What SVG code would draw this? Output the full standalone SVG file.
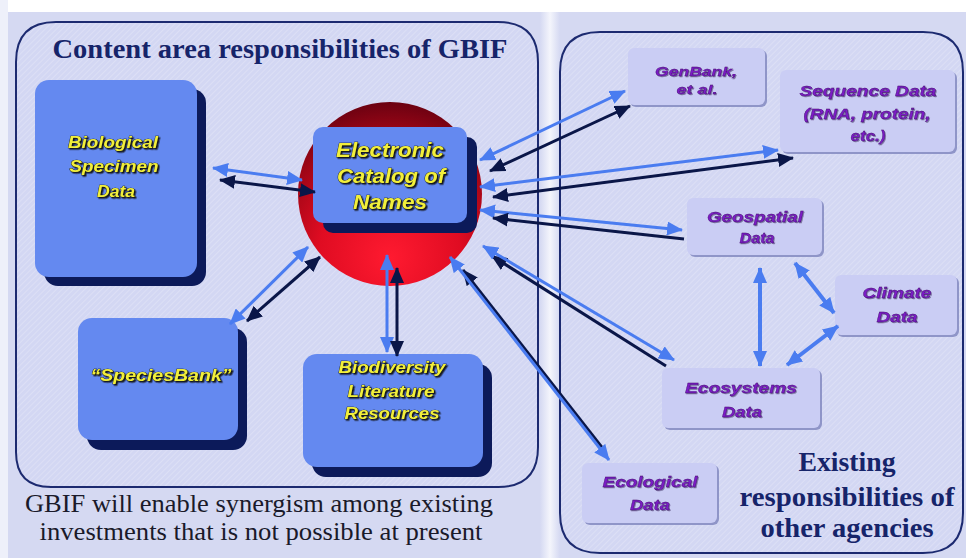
<svg xmlns="http://www.w3.org/2000/svg" width="966" height="558" viewBox="0 0 966 558">
<defs>
<style>
.bg{fill:#d5d9f2}
.panel{fill:url(#hatch);stroke:#1c2a70;stroke-width:2}
.bbox{fill:#6489f0}
.bshadow{fill:#0c1a5a}
.rbox{fill:#cacdf4}
.rshadow{fill:#8f95c8}
.yt{font-family:"Liberation Sans",Arial,sans-serif;font-style:italic;font-weight:bold;font-size:16px;fill:#f2ef3a;stroke:#15150a;stroke-width:0.7;paint-order:stroke;text-anchor:middle;filter:url(#ts)}
.ecn{font-size:20px}
.pt{font-family:"Liberation Sans",Arial,sans-serif;font-style:italic;font-weight:bold;font-size:15px;fill:#7a1cc4;stroke:#3a0a60;stroke-width:0.3;text-anchor:middle;filter:url(#ts2)}
.sm{font-size:13px}
.head{font-family:"Liberation Serif","Times New Roman",serif;font-weight:bold;font-size:27px;fill:#16246a;text-anchor:middle}
.foot{font-family:"Liberation Serif","Times New Roman",serif;font-size:25px;fill:#1a1a2a;text-anchor:middle}
.lb{stroke:#4a7cf0;stroke-width:3;fill:none}
.dk{stroke:#0a1648;stroke-width:3;fill:none}
.lbw{stroke:#4a7cf0;stroke-width:4;fill:none}
</style>
<pattern id="hatch" width="4" height="4" patternUnits="userSpaceOnUse" patternTransform="rotate(45)">
<rect width="4" height="4" fill="#d3d7f3"/>
<line x1="0" y1="0" x2="0" y2="4" stroke="#dfe2f6" stroke-width="1.5"/>
</pattern>
<linearGradient id="gap" x1="0" y1="0" x2="1" y2="0">
<stop offset="0" stop-color="#d5d9f2"/>
<stop offset="0.5" stop-color="#f4f5fc"/>
<stop offset="1" stop-color="#d5d9f2"/>
</linearGradient>
<radialGradient id="red" cx="0.5" cy="0.8" r="0.85" fx="0.5" fy="0.85">
<stop offset="0" stop-color="#ff1a30"/>
<stop offset="0.45" stop-color="#e00c22"/>
<stop offset="0.75" stop-color="#a00616"/>
<stop offset="1" stop-color="#5c0010"/>
</radialGradient>
<filter id="ts" x="-10%" y="-30%" width="130%" height="160%">
<feDropShadow dx="1.5" dy="1.5" stdDeviation="0.4" flood-color="#101010" flood-opacity="0.9"/>
</filter>
<filter id="ts2" x="-10%" y="-30%" width="130%" height="160%">
<feDropShadow dx="1" dy="1" stdDeviation="0.4" flood-color="#2a1050" flood-opacity="0.5"/>
</filter>
<marker id="hl" viewBox="0 0 16 14" markerUnits="userSpaceOnUse" markerWidth="16" markerHeight="14" refX="15" refY="7" orient="auto-start-reverse">
<path d="M0,0 L16,7 L0,14 z" fill="#4a7cf0"/>
</marker>
<marker id="hd" viewBox="0 0 16 14" markerUnits="userSpaceOnUse" markerWidth="16" markerHeight="14" refX="15" refY="7" orient="auto-start-reverse">
<path d="M0,0 L16,7 L0,14 z" fill="#0a1648"/>
</marker>
</defs>

<g id="background">
<rect class="bg" x="0" y="0" width="966" height="558"/>
<rect x="0" y="0" width="966" height="12" fill="#ffffff"/>
<rect x="0" y="0" width="8" height="558" fill="#eef0fa"/>
<rect x="540" y="12" width="20" height="546" fill="url(#gap)"/>
</g>

<g id="panel-gbif">
<path class="panel" d="M56,22 L498,22 Q538,22 538,62 L538,447 Q538,487 498,487 L51,487 Q16,487 16,452 L16,62 Q16,22 56,22 Z"/>
<text class="head" x="280" y="58" textLength="455" lengthAdjust="spacingAndGlyphs">Content area responsibilities of GBIF</text>
</g>

<g id="panel-agencies">
<path class="panel" d="M600,32 L923,32 Q963,32 963,72 L963,513 Q963,553 923,553 L600,553 Q560,553 560,513 L560,72 Q560,32 600,32 Z"/>
<text class="head" x="847" y="471" textLength="97" lengthAdjust="spacingAndGlyphs">Existing</text>
<text class="head" x="847" y="506" textLength="215" lengthAdjust="spacingAndGlyphs">responsibilities of</text>
<text class="head" x="847" y="537" textLength="173" lengthAdjust="spacingAndGlyphs">other agencies</text>
</g>

<g id="node-biological">
<rect class="bshadow" x="44" y="89" width="162" height="197" rx="14"/>
<rect class="bbox" x="35" y="80" width="162" height="197" rx="14"/>
<text class="yt" x="113" y="148" textLength="90" lengthAdjust="spacingAndGlyphs">Biological</text>
<text class="yt" x="114" y="172" textLength="89" lengthAdjust="spacingAndGlyphs">Specimen</text>
<text class="yt" x="116" y="197" textLength="38" lengthAdjust="spacingAndGlyphs">Data</text>
</g>

<g id="node-ecn">
<circle cx="390" cy="194" r="92" fill="url(#red)"/>
<rect class="bshadow" x="323" y="137" width="154" height="96" rx="10"/>
<rect class="bbox" x="313" y="127" width="154" height="96" rx="10"/>
<text class="yt ecn" x="390" y="157" textLength="108" lengthAdjust="spacingAndGlyphs">Electronic</text>
<text class="yt ecn" x="391" y="183" textLength="108" lengthAdjust="spacingAndGlyphs">Catalog of</text>
<text class="yt ecn" x="390" y="209" textLength="74" lengthAdjust="spacingAndGlyphs">Names</text>
</g>

<g id="node-speciesbank">
<rect class="bshadow" x="87" y="328" width="160" height="122" rx="14"/>
<rect class="bbox" x="78" y="318" width="160" height="122" rx="14"/>
<text class="yt" x="161" y="381" textLength="141" lengthAdjust="spacingAndGlyphs">“SpeciesBank”</text>
</g>

<g id="node-biodiversity">
<rect class="bshadow" x="312" y="364" width="180" height="113" rx="14"/>
<rect class="bbox" x="303" y="354" width="180" height="113" rx="14"/>
<text class="yt" x="392" y="373" textLength="107" lengthAdjust="spacingAndGlyphs">Biodiversity</text>
<text class="yt" x="391" y="397" textLength="87" lengthAdjust="spacingAndGlyphs">Literature</text>
<text class="yt" x="392" y="419" textLength="95" lengthAdjust="spacingAndGlyphs">Resources</text>
</g>

<g id="node-genbank">
<rect class="rshadow" x="630" y="50" width="137" height="57" rx="6"/>
<rect class="rbox" x="628" y="48" width="137" height="57" rx="6"/>
<text class="pt sm" x="696" y="76" textLength="82" lengthAdjust="spacingAndGlyphs">GenBank,</text>
<text class="pt sm" x="697" y="94" textLength="41" lengthAdjust="spacingAndGlyphs">et al.</text>
</g>

<g id="node-sequence">
<rect class="rshadow" x="782" y="72" width="175" height="82" rx="6"/>
<rect class="rbox" x="780" y="70" width="175" height="82" rx="6"/>
<text class="pt" x="868" y="96" textLength="137" lengthAdjust="spacingAndGlyphs">Sequence Data</text>
<text class="pt" x="867" y="119" textLength="127" lengthAdjust="spacingAndGlyphs">(RNA, protein,</text>
<text class="pt" x="868" y="141" textLength="35" lengthAdjust="spacingAndGlyphs">etc.)</text>
</g>

<g id="node-geospatial">
<rect class="rshadow" x="689" y="200" width="135" height="57" rx="6"/>
<rect class="rbox" x="687" y="198" width="135" height="57" rx="6"/>
<text class="pt" x="755" y="222" textLength="96" lengthAdjust="spacingAndGlyphs">Geospatial</text>
<text class="pt" x="757" y="243" textLength="35" lengthAdjust="spacingAndGlyphs">Data</text>
</g>

<g id="node-climate">
<rect class="rshadow" x="837" y="277" width="122" height="60" rx="6"/>
<rect class="rbox" x="835" y="275" width="122" height="60" rx="6"/>
<text class="pt" x="897" y="298" textLength="69" lengthAdjust="spacingAndGlyphs">Climate</text>
<text class="pt" x="897" y="322" textLength="41" lengthAdjust="spacingAndGlyphs">Data</text>
</g>

<g id="node-ecosystems">
<rect class="rshadow" x="664" y="370" width="158" height="60" rx="6"/>
<rect class="rbox" x="662" y="368" width="158" height="60" rx="6"/>
<text class="pt" x="741" y="393" textLength="112" lengthAdjust="spacingAndGlyphs">Ecosystems</text>
<text class="pt" x="742" y="417" textLength="40" lengthAdjust="spacingAndGlyphs">Data</text>
</g>

<g id="node-ecological">
<rect class="rshadow" x="584" y="465" width="135" height="60" rx="6"/>
<rect class="rbox" x="582" y="463" width="135" height="60" rx="6"/>
<text class="pt" x="650" y="487" textLength="95" lengthAdjust="spacingAndGlyphs">Ecological</text>
<text class="pt" x="650" y="510" textLength="40" lengthAdjust="spacingAndGlyphs">Data</text>
</g>

<g id="connectors">
<line class="lb" x1="213" y1="168" x2="302" y2="180" marker-start="url(#hl)" marker-end="url(#hl)"/>
<line class="dk" x1="220" y1="180" x2="315" y2="192" marker-start="url(#hd)" marker-end="url(#hd)"/>
<line class="lb" x1="308" y1="247" x2="230" y2="324" marker-start="url(#hl)" marker-end="url(#hl)"/>
<line class="dk" x1="320" y1="257" x2="247" y2="321" marker-start="url(#hd)" marker-end="url(#hd)"/>
<line class="lb" x1="387" y1="255" x2="387" y2="352" marker-start="url(#hl)" marker-end="url(#hl)"/>
<line class="dk" x1="397" y1="268" x2="397" y2="356" marker-start="url(#hd)" marker-end="url(#hd)"/>
<line class="lb" x1="480" y1="160" x2="625" y2="91" marker-start="url(#hl)" marker-end="url(#hl)"/>
<line class="dk" x1="490" y1="171" x2="630" y2="106" marker-start="url(#hd)" marker-end="url(#hd)"/>
<line class="lb" x1="480" y1="187" x2="778" y2="150" marker-start="url(#hl)" marker-end="url(#hl)"/>
<line class="dk" x1="493" y1="197" x2="793" y2="158" marker-start="url(#hd)" marker-end="url(#hd)"/>
<line class="lb" x1="480" y1="210" x2="682" y2="230" marker-start="url(#hl)" marker-end="url(#hl)"/>
<line class="dk" x1="493" y1="218" x2="684" y2="239" marker-start="url(#hd)"/>
<line class="dk" x1="492" y1="256" x2="666" y2="366" marker-start="url(#hd)"/>
<line class="lb" x1="483" y1="246" x2="674" y2="360" marker-start="url(#hl)" marker-end="url(#hl)"/>
<line class="dk" x1="463" y1="270" x2="604" y2="450" marker-start="url(#hd)"/>
<line class="lb" x1="450" y1="257" x2="609" y2="460" marker-start="url(#hl)" marker-end="url(#hl)"/>
<line class="lbw" x1="760" y1="268" x2="760" y2="366" marker-start="url(#hl)" marker-end="url(#hl)"/>
<line class="lbw" x1="795" y1="263" x2="834" y2="313" marker-start="url(#hl)" marker-end="url(#hl)"/>
<line class="lbw" x1="787" y1="365" x2="838" y2="326" marker-start="url(#hl)" marker-end="url(#hl)"/>
</g>

<g id="caption">
<text class="foot" x="259" y="512" textLength="468" lengthAdjust="spacingAndGlyphs">GBIF will enable synergism among existing</text>
<text class="foot" x="261" y="540" textLength="443" lengthAdjust="spacingAndGlyphs">investments that is not possible at present</text>
</g>
</svg>
